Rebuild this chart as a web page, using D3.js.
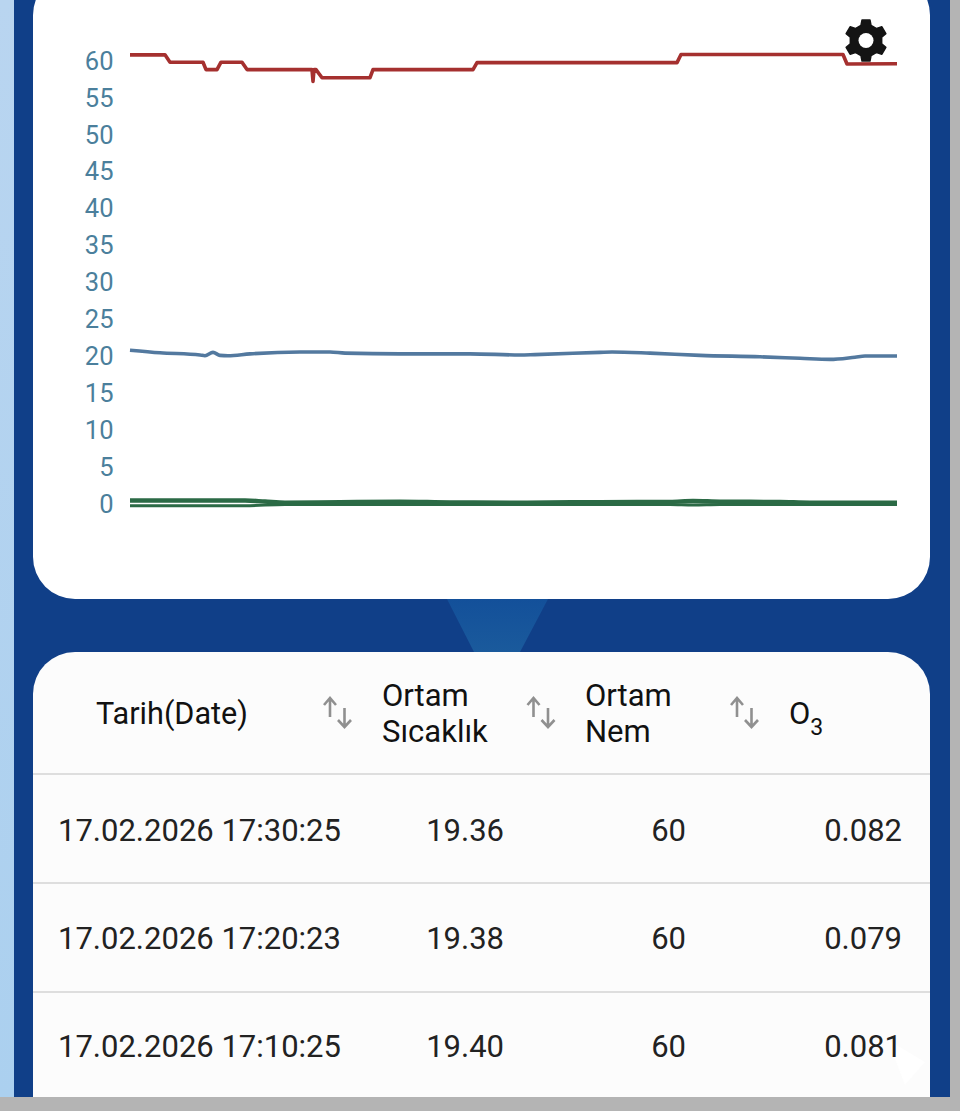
<!DOCTYPE html>
<html><head><meta charset="utf-8">
<script src="https://cdn.jsdelivr.net/npm/d3@7"></script>
<style>html,body{margin:0;padding:0;background:#b3b3b3;overflow:hidden}svg{display:block}text{font-family:Roboto,sans-serif}</style>
</head><body><svg id="c" width="960" height="1111"></svg>
<script>
// minutes from the start of the window
const yTicks=[0,5,10,15,20,25,30,35,40,45,50,55,60];
const redMinutes=[0,70,80,146,152,174,182,224,234,364,366,368,372,384,480,486,686,694,1094,1102,1426,1434,1534];
const redValues=[60.7,60.7,59.7,59.7,58.7,58.7,59.7,59.7,58.7,58.7,57.1,58.7,58.7,57.6,57.6,58.7,58.7,59.65,59.65,60.75,60.75,59.45,59.5];
const blueMinutes=[0,60,140,150,166,180,196,240,340,400,430,540,680,780,810,940,964,1040,1140,1260,1340,1400,1450,1470,1534];
const blueValues=[20.7,20.35,20.05,19.95,20.4,20.0,19.95,20.2,20.45,20.45,20.3,20.2,20.2,20.05,20.1,20.4,20.45,20.3,20.0,19.8,19.6,19.45,19.75,19.9,19.9];
const greenUpperMinutes=[0,230,270,310,420,540,640,780,940,1080,1126,1180,1300,1360,1534];
const greenUpperValues=[0.34,0.34,0.2,0.05,0.12,0.18,0.08,0.05,0.12,0.15,0.28,0.18,0.14,0.05,0.05];
const greenLowerMinutes=[0,230,310,1080,1126,1180,1534];
const greenLowerValues=[-0.36,-0.36,-0.2,-0.2,-0.27,-0.2,-0.22];
const headers=[["Tarih(Date)"],["Ortam","Sıcaklık"],["Ortam","Nem"]];
const rowDates=["17.02.2026 17:30:25","17.02.2026 17:20:23","17.02.2026 17:10:25"];
const rowTemp=["19.36","19.38","19.40"];
const rowHum=["60","60","60"];
const rowO3=["0.082","0.079","0.081"];

const svg=d3.select("#c");
const defs=svg.append("defs");
const g=defs.append("linearGradient").attr("id","strip").attr("x1",0).attr("x2",0).attr("y1",0).attr("y2",1);
g.append("stop").attr("offset",0).attr("stop-color","#b9d5f0");
g.append("stop").attr("offset",1).attr("stop-color","#abd0ef");
const tr=defs.append("linearGradient").attr("id","trap").attr("x1",0).attr("x2",0).attr("y1",0).attr("y2",1);
tr.append("stop").attr("offset",0).attr("stop-color","#13509a");
tr.append("stop").attr("offset",1).attr("stop-color","#1a5a9c");
svg.append("rect").attr("width",960).attr("height",1111).attr("fill","#b4b4b4");
svg.append("rect").attr("width",14).attr("height",1097).attr("fill","url(#strip)");
svg.append("rect").attr("x",14).attr("width",936).attr("height",1097).attr("fill","#103f88");
svg.append("path").attr("d","M447,599L548,599L520,652L474,652Z").attr("fill","url(#trap)");
svg.append("rect").attr("x",33).attr("y",-27).attr("width",897).attr("height",626).attr("rx",42).attr("fill","#fff");
svg.append("path").attr("d","M33,1097V694A42,42 0 0 1 75,652H888A42,42 0 0 1 930,694V1097Z").attr("fill","#fcfcfc");
svg.append("path").attr("d","M888,1040L925,1062L905,1085Z").attr("fill","#fff");

const x=d3.scaleLinear().domain([0,1534]).range([130,897]);
const y=d3.scaleLinear().domain([0,60]).range([503,60]);
const yAxis=d3.axisLeft(y).tickValues(yTicks).tickSize(0).tickPadding(0);
const ax=svg.append("g").attr("transform","translate(113.5,0)").call(yAxis);
ax.select(".domain").remove();
ax.selectAll("text").attr("font-size",25.5).attr("fill","#4b7f9c").attr("font-family","Roboto,sans-serif").attr("dy","0.36em");

const line=d3.line().x(d=>x(d[0])).y(d=>y(d[1])).curve(d3.curveLinear);
const smooth=d3.line().x(d=>x(d[0])).y(d=>y(d[1])).curve(d3.curveMonotoneX);
const series=[
 {m:greenLowerMinutes,v:greenLowerValues,c:"#2b6a45",w:3,l:smooth},
 {m:greenUpperMinutes,v:greenUpperValues,c:"#2b6a45",w:4.4,l:smooth},
 {m:blueMinutes,v:blueValues,c:"#53799f",w:3.6,l:smooth},
 {m:redMinutes,v:redValues,c:"#a5302f",w:3.6,l:line}];
series.forEach(s=>svg.append("path").attr("d",s.l(s.m.map((t,i)=>[t,s.v[i]]))).attr("fill","none").attr("stroke",s.c).attr("stroke-width",s.w).attr("stroke-linejoin","round"));

// gear icon
const gear=svg.append("g").attr("transform","translate(866,40.5)");
const pts=[];
for(let i=0;i<6;i++){const a=i*Math.PI/3-Math.PI/2;
 [[-0.32,16],[-0.19,21],[0.19,21],[0.32,16]].forEach(p=>pts.push([p[1]*Math.cos(a+p[0]),p[1]*Math.sin(a+p[0])]));}
gear.append("path").attr("d",d3.line().curve(d3.curveLinearClosed)(pts)).attr("fill","#141414").attr("stroke","#141414").attr("stroke-width",1.5).attr("stroke-linejoin","round");
gear.append("circle").attr("r",7.5).attr("fill","#fff");

// table
const headerX=[96,382,585];
const arrowsX=[322,525.5,729];
headers.forEach((h,i)=>{
  const ys=h.length==1?[724]:[706,742];
  h.forEach((t,j)=>svg.append("text").attr("x",headerX[i]).attr("y",ys[j]).attr("font-size",31).attr("textLength",t=="Tarih(Date)"?152:null).attr("lengthAdjust","spacingAndGlyphs").attr("fill","#111").text(t));
});
const o3=svg.append("text").attr("x",789).attr("y",724).attr("font-size",31).attr("fill","#111");
o3.append("tspan").text("O");
o3.append("tspan").attr("dy",11).attr("font-size",23).text("3");
arrowsX.forEach(a=>{
  const p=svg.append("g").attr("transform",`translate(${a},697)`).attr("fill","none").attr("stroke","#909090").attr("stroke-width",2.6);
  p.append("path").attr("d","M8,20V1M2,8L8,1L14,8");
  p.append("path").attr("d","M22.5,11V30M16,23L22.5,30L29,23");
});
[774,883,992].forEach(d=>svg.append("line").attr("x1",33).attr("x2",930).attr("y1",d).attr("y2",d).attr("stroke","#dedede").attr("stroke-width",2));
const rowY=[841,949,1057];
rowY.forEach((ry,i)=>{
  const t=(s,xp,a)=>svg.append("text").attr("x",xp).attr("y",ry).attr("font-size",31).attr("text-anchor",a).attr("fill","#222").text(s);
  t(rowDates[i],58,"start");t(rowTemp[i],504,"end");t(rowHum[i],686,"end");t(rowO3[i],902,"end");
});
</script></body></html>
